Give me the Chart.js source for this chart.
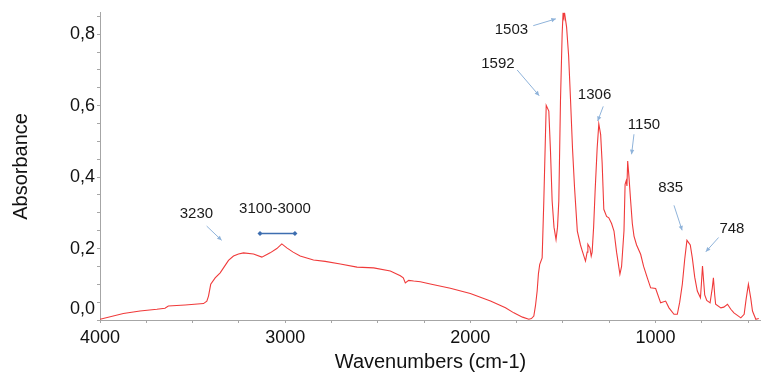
<!DOCTYPE html>
<html><head><meta charset="utf-8">
<script src="https://cdn.jsdelivr.net/npm/chart.js@4/dist/chart.umd.min.js"></script>
<style>html,body{margin:0;padding:0;background:#fff;overflow:hidden}#wrap{width:761px;height:377px;position:relative}</style>
</head><body><div id="wrap"><canvas id="c" width="761" height="377"></canvas></div>
<script>
// ---- data ----
const wavenumbers = [4000,3874,3784,3693,3649,3631,3540,3441,3423,3414,3402,3378,3351,3333,3306,3279,3252,3225,3171,3126,3081,3045,3018,2991,2957,2919,2847,2784,2702,2612,2522,2432,2378,2362,2351,2333,2306,2270,2216,2108,2000,1891,1810,1765,1718,1684,1670,1657,1648,1639,1632,1625,1612,1603,1594,1590,1576,1567,1558,1548,1537,1529,1522,1513,1504,1499,1495,1491,1480,1469,1459,1448,1437,1422,1405,1395,1378,1369,1365,1354,1347,1342,1334,1326,1315,1306,1296,1288,1279,1264,1252,1237,1224,1210,1192,1183,1170,1164,1158,1154,1150,1143,1134,1125,1116,1102,1080,1064,1044,1026,999,972,945,927,900,882,869,855,842,830,812,801,788,774,757,752,746,740,734,723,705,693,687,680,675,647,631,611,593,576,539,521,510,498,485,476,458,442];
const absorbance = [0.002,0.018,0.025,0.030,0.033,0.039,0.042,0.046,0.053,0.067,0.100,0.118,0.132,0.146,0.167,0.179,0.185,0.188,0.185,0.176,0.188,0.200,0.213,0.202,0.190,0.179,0.168,0.164,0.157,0.148,0.146,0.137,0.124,0.118,0.104,0.111,0.109,0.107,0.101,0.089,0.074,0.053,0.034,0.020,0.008,0.002,0.004,0.011,0.040,0.081,0.130,0.156,0.174,0.333,0.519,0.601,0.585,0.473,0.333,0.260,0.225,0.260,0.333,0.613,0.800,0.860,0.850,0.860,0.820,0.740,0.620,0.480,0.370,0.249,0.210,0.193,0.165,0.190,0.212,0.202,0.179,0.190,0.260,0.360,0.480,0.549,0.519,0.440,0.310,0.290,0.286,0.270,0.249,0.190,0.128,0.150,0.250,0.380,0.390,0.375,0.445,0.400,0.333,0.270,0.235,0.210,0.184,0.150,0.118,0.090,0.088,0.048,0.053,0.034,0.016,0.016,0.050,0.100,0.170,0.223,0.210,0.174,0.120,0.081,0.062,0.100,0.151,0.110,0.070,0.055,0.048,0.090,0.118,0.070,0.044,0.034,0.036,0.044,0.030,0.020,0.006,0.016,0.060,0.100,0.060,0.025,0.002,0.004];
const xTickLabels = [4000, 3000, 2000, 1000];
const yTickLabels = [0, 0.2, 0.4, 0.6, 0.8];
const annotationTexts = ['3230', '3100-3000', '1503', '1592', '1306', '1150', '835', '748'];
// annotation anchors in data units [wavenumber, absorbance]
const annotationTextPos = [[3479,0.296],[3055,0.310],[1778,0.811],[1851,0.716],[1329,0.631],[1062,0.545],[918,0.369],[587,0.254]];
const annotationArrowFrom = [[3424,0.263],[3136,0.242],[1660,0.824],[1747,0.700],[1282,0.598],[1116,0.520],[900,0.321],[659,0.231]];
const annotationArrowTo   = [[3343,0.223],[2947,0.242],[1538,0.843],[1628,0.628],[1312,0.557],[1129,0.464],[856,0.251],[728,0.191]];

const FONT = "'Liberation Sans', Arial, sans-serif";
const points = wavenumbers.map((w, i) => ({x: w, y: absorbance[i]}));

const annotPlugin = {
  id: 'annot',
  afterDatasetsDraw(chart) {
    const ctx = chart.ctx, xs = chart.scales.x, ys = chart.scales.y;
    ctx.save();
    annotationTexts.forEach((t, i) => {
      const tx = xs.getPixelForValue(annotationTextPos[i][0]);
      const ty = ys.getPixelForValue(annotationTextPos[i][1]);
      ctx.font = '15px ' + FONT;
      ctx.fillStyle = '#1a1a1a';
      ctx.textAlign = 'center';
      ctx.textBaseline = 'middle';
      ctx.fillText(t, tx, ty);
      const x1 = xs.getPixelForValue(annotationArrowFrom[i][0]);
      const y1 = ys.getPixelForValue(annotationArrowFrom[i][1]);
      const x2 = xs.getPixelForValue(annotationArrowTo[i][0]);
      const y2 = ys.getPixelForValue(annotationArrowTo[i][1]);
      if (t.indexOf('-') >= 0) {
        ctx.strokeStyle = '#3d6eb0'; ctx.fillStyle = '#3d6eb0'; ctx.lineWidth = 1.5;
        ctx.beginPath(); ctx.moveTo(x1, y1); ctx.lineTo(x2, y2); ctx.stroke();
        [[x1,y1],[x2,y2]].forEach(p => {
          ctx.beginPath();
          ctx.moveTo(p[0]-2.5, p[1]); ctx.lineTo(p[0], p[1]-2.5); ctx.lineTo(p[0]+2.5, p[1]); ctx.lineTo(p[0], p[1]+2.5);
          ctx.closePath(); ctx.fill();
        });
      } else {
        ctx.strokeStyle = '#8fb3da'; ctx.fillStyle = '#8fb3da'; ctx.lineWidth = 1;
        ctx.beginPath(); ctx.moveTo(x1, y1); ctx.lineTo(x2, y2); ctx.stroke();
        const a = Math.atan2(y2 - y1, x2 - x1), L = 5, W = 0.45;
        ctx.beginPath();
        ctx.moveTo(x2, y2);
        ctx.lineTo(x2 - L*Math.cos(a - W), y2 - L*Math.sin(a - W));
        ctx.lineTo(x2 - L*Math.cos(a + W), y2 - L*Math.sin(a + W));
        ctx.closePath(); ctx.fill();
      }
    });
    ctx.restore();
  }
};

const isMultiple = (v, s) => Math.abs(v / s - Math.round(v / s)) < 1e-6;

new Chart(document.getElementById('c'), {
  type: 'line',
  data: { datasets: [{ data: points, borderColor: '#f03a3a', borderWidth: 1.1, pointRadius: 0, tension: 0, fill: false }] },
  options: {
    responsive: false, animation: false,
    layout: { padding: { top: 12, right: 0, left: 0, bottom: 0 } },
    plugins: { legend: { display: false }, tooltip: { enabled: false } },
    scales: {
      x: {
        type: 'linear', reverse: true, min: 430, max: 4000,
        afterFit(s) { s.height = 57; },
        border: { display: true, color: '#a6a6a6', width: 1 },
        grid: { drawOnChartArea: false, drawTicks: true, tickLength: 3, color: '#a6a6a6' },
        ticks: {
          stepSize: 250, includeBounds: false, autoSkip: false, maxRotation: 0, padding: 4,
          color: '#111', font: { family: FONT, size: 18 },
          callback: v => xTickLabels.some(t => Math.abs(t - v) < 1e-6) ? String(v) : ''
        },
        title: { display: true, text: 'Wavenumbers (cm-1)', color: '#111', font: { family: FONT, size: 20 }, padding: { top: 0, bottom: 3 } }
      },
      y: {
        type: 'linear', min: 0, max: 0.86,
        afterFit(s) { s.width = 100; },
        border: { display: true, color: '#a6a6a6', width: 1 },
        grid: { drawOnChartArea: false, drawTicks: true, tickLength: 3, color: '#a6a6a6' },
        ticks: {
          stepSize: 0.05, includeBounds: false, autoSkip: false, padding: 2,
          color: '#111', font: { family: FONT, size: 18 },
          callback: v => {
            if (!yTickLabels.some(t => Math.abs(t - v) < 1e-6)) return '';
            const s = v.toFixed(1).replace('.', ',');
            return Math.abs(v) < 1e-6 ? [s, ''] : s;
          }
        },
        title: { display: true, text: 'Absorbance', color: '#111', font: { family: FONT, size: 20 }, padding: { top: 9, bottom: 0 } }
      }
    }
  },
  plugins: [annotPlugin]
});
</script></body></html>
